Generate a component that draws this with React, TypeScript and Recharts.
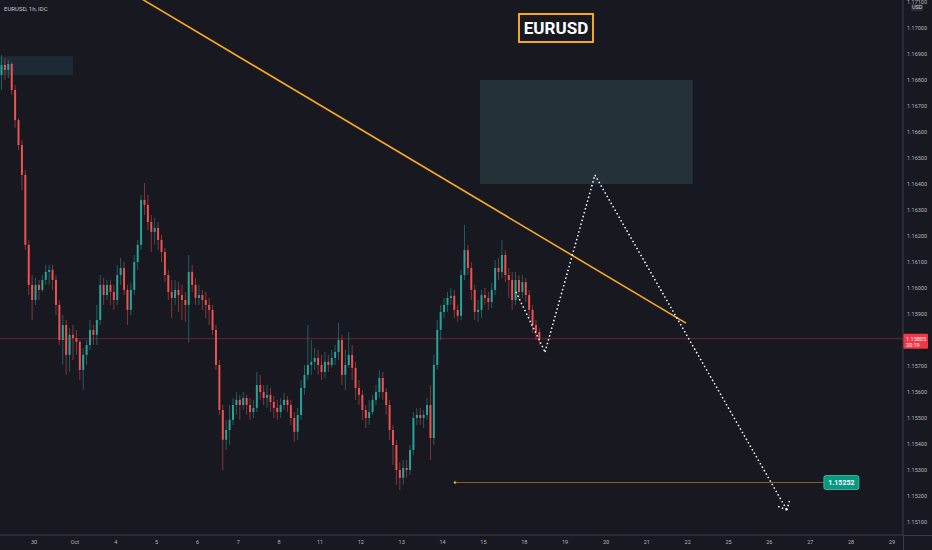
import React from 'react';
import {
  ComposedChart,
  Bar,
  XAxis,
  YAxis,
  ReferenceLine,
  ReferenceArea,
  ReferenceDot,
} from 'recharts';

// EURUSD 1h chart, candles sampled every 2 trading hours (t = trading hours since 30 Sep 00:00)
const dayLabels = ['30', 'Oct', '4', '5', '6', '7', '8', '11', '12', '13', '14', '15', '18', '19', '20', '21', '22', '25', '26', '27', '28', '29'];
const priceTicks = [1.151, 1.152, 1.153, 1.154, 1.155, 1.156, 1.157, 1.159, 1.16, 1.161, 1.162, 1.163, 1.164, 1.165, 1.166, 1.167, 1.168, 1.169, 1.17, 1.171];

const opens = [
  1.16820, 1.16858, 1.16839, 1.16862, 1.16762, 1.16646, 1.16550, 1.16435, 1.16166, 1.16012,
  1.15954, 1.16012, 1.15993, 1.16031, 1.16062, 1.16070, 1.16031, 1.15935, 1.15800, 1.15858,
  1.15743, 1.15820, 1.15808, 1.15793, 1.15685, 1.15743, 1.15781, 1.15839, 1.15820, 1.15877,
  1.16012, 1.15973, 1.16012, 1.15985, 1.15954, 1.16050, 1.16077, 1.15993, 1.15916, 1.15993,
  1.16100, 1.16166, 1.16339, 1.16320, 1.16254, 1.16216, 1.16231, 1.16185, 1.16139, 1.16050,
  1.15985, 1.15962, 1.15993, 1.15973, 1.15954, 1.15935, 1.16062, 1.16012, 1.15962, 1.15973,
  1.15954, 1.15935, 1.15916, 1.15839, 1.15704, 1.15531, 1.15416, 1.15454, 1.15493, 1.15550,
  1.15570, 1.15550, 1.15577, 1.15550, 1.15523, 1.15539, 1.15627, 1.15600, 1.15577, 1.15589,
  1.15562, 1.15539, 1.15523, 1.15550, 1.15570, 1.15550, 1.15500, 1.15447, 1.15512, 1.15616,
  1.15666, 1.15704, 1.15716, 1.15731, 1.15704, 1.15677, 1.15716, 1.15704, 1.15731, 1.15754,
  1.15800, 1.15666, 1.15704, 1.15743, 1.15693, 1.15616, 1.15589, 1.15531, 1.15500, 1.15523,
  1.15570, 1.15600, 1.15654, 1.15600, 1.15550, 1.15454, 1.15396, 1.15300, 1.15270, 1.15308,
  1.15300, 1.15377, 1.15500, 1.15512, 1.15500, 1.15512, 1.15550, 1.15423, 1.15704, 1.15839,
  1.15908, 1.15935, 1.15962, 1.15970, 1.15916, 1.15893, 1.16050, 1.16146, 1.16077, 1.15993,
  1.15908, 1.15916, 1.15973, 1.15962, 1.15946, 1.15993, 1.16077, 1.16062, 1.16127, 1.16050,
  1.16031, 1.15954, 1.16031, 1.15985, 1.16023, 1.15973, 1.15916, 1.15858, 1.15831,
];
const highs = [
  1.16896, 1.16885, 1.16877, 1.16870, 1.16781, 1.16654, 1.16570, 1.16454, 1.16185, 1.16050,
  1.16039, 1.16031, 1.16050, 1.16089, 1.16089, 1.16089, 1.16050, 1.15954, 1.15896, 1.15877,
  1.15846, 1.15858, 1.15839, 1.15800, 1.15770, 1.15800, 1.15877, 1.15858, 1.15935, 1.16050,
  1.16039, 1.16031, 1.16031, 1.16012, 1.16089, 1.16116, 1.16100, 1.16012, 1.16020, 1.16127,
  1.16185, 1.16358, 1.16404, 1.16358, 1.16281, 1.16270, 1.16254, 1.16204, 1.16154, 1.16070,
  1.16031, 1.16031, 1.16023, 1.16012, 1.15985, 1.16127, 1.16089, 1.16039, 1.16012, 1.15993,
  1.15985, 1.15962, 1.15935, 1.15858, 1.15723, 1.15550, 1.15493, 1.15550, 1.15577, 1.15600,
  1.15589, 1.15600, 1.15589, 1.15577, 1.15570, 1.15677, 1.15666, 1.15627, 1.15627, 1.15616,
  1.15585, 1.15570, 1.15577, 1.15597, 1.15585, 1.15570, 1.15523, 1.15539, 1.15646, 1.15704,
  1.15858, 1.15800, 1.15770, 1.15762, 1.15743, 1.15754, 1.15743, 1.15762, 1.15781, 1.15866,
  1.15820, 1.15762, 1.15831, 1.15781, 1.15716, 1.15646, 1.15608, 1.15550, 1.15570, 1.15589,
  1.15627, 1.15685, 1.15677, 1.15616, 1.15570, 1.15473, 1.15416, 1.15331, 1.15339, 1.15339,
  1.15396, 1.15523, 1.15539, 1.15539, 1.15531, 1.15577, 1.15627, 1.15743, 1.15877, 1.15935,
  1.15962, 1.15985, 1.16000, 1.15993, 1.15935, 1.16070, 1.16243, 1.16166, 1.16100, 1.16012,
  1.15954, 1.15993, 1.16000, 1.15985, 1.16020, 1.16108, 1.16116, 1.16185, 1.16146, 1.16077,
  1.16062, 1.16062, 1.16050, 1.16050, 1.16039, 1.15993, 1.15935, 1.15877, 1.15846,
];
const lows = [
  1.16762, 1.16800, 1.16808, 1.16743, 1.16616, 1.16531, 1.16377, 1.16146, 1.15973, 1.15877,
  1.15935, 1.15954, 1.15985, 1.16012, 1.16012, 1.15993, 1.15896, 1.15781, 1.15704, 1.15666,
  1.15677, 1.15723, 1.15743, 1.15646, 1.15608, 1.15704, 1.15762, 1.15781, 1.15781, 1.15858,
  1.15935, 1.15954, 1.15935, 1.15916, 1.15935, 1.16012, 1.15973, 1.15858, 1.15896, 1.15973,
  1.16070, 1.16146, 1.16281, 1.16223, 1.16139, 1.16166, 1.16146, 1.16100, 1.16023, 1.15954,
  1.15885, 1.15935, 1.15908, 1.15877, 1.15870, 1.15789, 1.15985, 1.15935, 1.15935, 1.15916,
  1.15885, 1.15858, 1.15820, 1.15685, 1.15512, 1.15300, 1.15377, 1.15396, 1.15473, 1.15512,
  1.15493, 1.15531, 1.15512, 1.15493, 1.15500, 1.15523, 1.15570, 1.15550, 1.15539, 1.15523,
  1.15500, 1.15493, 1.15500, 1.15531, 1.15523, 1.15473, 1.15408, 1.15416, 1.15493, 1.15589,
  1.15646, 1.15666, 1.15685, 1.15666, 1.15646, 1.15654, 1.15677, 1.15693, 1.15704, 1.15723,
  1.15627, 1.15608, 1.15693, 1.15646, 1.15570, 1.15550, 1.15493, 1.15462, 1.15473, 1.15512,
  1.15550, 1.15577, 1.15570, 1.15512, 1.15416, 1.15320, 1.15243, 1.15223, 1.15243, 1.15270,
  1.15281, 1.15358, 1.15473, 1.15473, 1.15462, 1.15493, 1.15339, 1.15396, 1.15685, 1.15800,
  1.15885, 1.15908, 1.15935, 1.15885, 1.15870, 1.15877, 1.16031, 1.16050, 1.15954, 1.15877,
  1.15870, 1.15885, 1.15935, 1.15916, 1.15923, 1.15973, 1.16031, 1.16039, 1.16023, 1.15962,
  1.15916, 1.15935, 1.15954, 1.15962, 1.15946, 1.15885, 1.15827, 1.15800, 1.15781,
];
const closes = [
  1.16858, 1.16839, 1.16862, 1.16762, 1.16646, 1.16550, 1.16435, 1.16166, 1.16012, 1.15954,
  1.16012, 1.15993, 1.16031, 1.16062, 1.16070, 1.16031, 1.15935, 1.15800, 1.15858, 1.15743,
  1.15820, 1.15808, 1.15793, 1.15685, 1.15743, 1.15781, 1.15839, 1.15820, 1.15877, 1.16012,
  1.15973, 1.16012, 1.15985, 1.15954, 1.16050, 1.16077, 1.15993, 1.15916, 1.15993, 1.16100,
  1.16166, 1.16339, 1.16320, 1.16254, 1.16216, 1.16231, 1.16185, 1.16139, 1.16050, 1.15985,
  1.15962, 1.15993, 1.15973, 1.15954, 1.15935, 1.16062, 1.16012, 1.15962, 1.15973, 1.15954,
  1.15935, 1.15916, 1.15839, 1.15704, 1.15531, 1.15416, 1.15454, 1.15493, 1.15550, 1.15570,
  1.15550, 1.15577, 1.15550, 1.15523, 1.15539, 1.15627, 1.15600, 1.15577, 1.15589, 1.15562,
  1.15539, 1.15523, 1.15550, 1.15570, 1.15550, 1.15500, 1.15447, 1.15512, 1.15616, 1.15666,
  1.15704, 1.15716, 1.15731, 1.15704, 1.15677, 1.15716, 1.15704, 1.15731, 1.15754, 1.15800,
  1.15666, 1.15704, 1.15743, 1.15693, 1.15616, 1.15589, 1.15531, 1.15500, 1.15523, 1.15570,
  1.15600, 1.15654, 1.15600, 1.15550, 1.15454, 1.15396, 1.15300, 1.15270, 1.15308, 1.15300,
  1.15377, 1.15500, 1.15512, 1.15500, 1.15512, 1.15550, 1.15423, 1.15704, 1.15839, 1.15908,
  1.15935, 1.15962, 1.15970, 1.15916, 1.15893, 1.16050, 1.16146, 1.16077, 1.15993, 1.15908,
  1.15916, 1.15973, 1.15962, 1.15946, 1.15993, 1.16077, 1.16062, 1.16127, 1.16050, 1.16031,
  1.15954, 1.16031, 1.15985, 1.16023, 1.15973, 1.15916, 1.15858, 1.15831, 1.15805,
];

const lastPrice = 1.15805;
const countdown = '20:19';
const targetPrice = 1.15252;

// drawings (time in trading hours, price)
const trendTimes = [54.6, 383];
const trendPrices = [1.17146, 1.15865];
const pathTimes = [283.1, 300.2, 329.5, 442.3];
const pathPrices = [1.15985, 1.15754, 1.16435, 1.15146];
const arrowTimes = [436.4, 444.1];
const arrowPrices = [1.15162, 1.15189];
const zoneTimes = [262, 387];
const zonePrices = [1.164, 1.168];
const oldZoneTimes = [-20, 22.9];
const oldZonePrices = [1.16819, 1.16892];
const targetTimes = [247.3, 464, 474.3];

const UP = '#26a69a';
const DOWN = '#ef5350';
const BG = '#181821';
const TEXT = '#b2b5be';
const FONT = 'Roboto, "Noto Sans", sans-serif';

const data = closes.map((c, i) => ({
  t: -19 + i * 2,
  open: opens[i],
  high: highs[i],
  low: lows[i],
  close: c,
}));

const Candle = (props: any) => {
  const { x, y, width, height, payload } = props;
  if (!payload || !height) return null;
  const { open, close, high, low } = payload;
  const color = close >= open ? UP : DOWN;
  const k = height / (high - low);
  const top = y + (high - Math.max(open, close)) * k;
  const bottom = y + (high - Math.min(open, close)) * k;
  const cx = x + width / 2;
  const bw = Math.max(width * 0.65, 1);
  return (
    <g>
      <line x1={cx} x2={cx} y1={y} y2={y + height} stroke={color} strokeOpacity={0.5} strokeWidth={1} />
      <rect x={cx - bw / 2} y={top} width={bw} height={Math.max(bottom - top, 1)} fill={color} />
    </g>
  );
};

const PriceTag = (props: any) => {
  const vb = props.viewBox || {};
  const x = vb.x + vb.width;
  const y = vb.y;
  return (
    <g>
      <rect x={x} y={y - 5} width={25} height={15} rx={1} fill="#f23645" />
      <text x={x + 3} y={y + 2} fill="#ffffff" fontSize={5.5} fontFamily={FONT}>
        {lastPrice.toFixed(5)}
      </text>
      <text x={x + 3} y={y + 8} fill="#ffffff" fontSize={5.5} fontFamily={FONT}>
        {countdown}
      </text>
    </g>
  );
};

const TargetTag = (props: any) => {
  const { cx, cy } = props;
  return (
    <g>
      <rect x={cx - 17.5} y={cy - 7} width={35} height={14} rx={2} fill="#089981" stroke="#4fc1ad" strokeWidth={0.8} />
      <text x={cx} y={cy + 2.5} textAnchor="middle" fill="#ffffff" fontSize={7} fontWeight="bold" fontFamily={FONT}>
        {targetPrice.toFixed(5)}
      </text>
    </g>
  );
};

const dotted = { stroke: '#ffffff', strokeWidth: 1.5, strokeDasharray: '1.5 2.5' };

export default function App() {
  return (
    <div style={{ position: 'absolute', left: 0, top: 0, width: 932, height: 550, background: BG, fontFamily: FONT, overflow: 'hidden' }}>
      <ComposedChart width={932} height={550} data={data} margin={{ top: 0, right: 0, bottom: 0, left: 0 }}>
        <XAxis
          dataKey="t"
          type="number"
          domain={[-20, 510.5]}
          allowDataOverflow
          ticks={dayLabels.map((_, i) => i * 24)}
          tickFormatter={(v: number) => dayLabels[Math.round(v / 24)]}
          height={15}
          tickLine={false}
          tickSize={0}
          tickMargin={5}
          axisLine={{ stroke: '#3a3d47' }}
          tick={{ fill: TEXT, fontSize: 5.5, fontFamily: FONT }}
          interval={0}
        />
        <YAxis
          orientation="right"
          type="number"
          domain={[1.1505, 1.17108]}
          allowDataOverflow
          ticks={priceTicks}
          tickFormatter={(v: number) => v.toFixed(5)}
          width={29}
          tickLine={false}
          tickSize={0}
          tickMargin={4}
          axisLine={{ stroke: '#3a3d47' }}
          tick={{ fill: TEXT, fontSize: 5.5, fontFamily: FONT, textAnchor: 'start' }}
          interval={0}
        />
        <ReferenceArea
          x1={oldZoneTimes[0]}
          x2={oldZoneTimes[1]}
          y1={oldZonePrices[0]}
          y2={oldZonePrices[1]}
          fill="#1c2a36"
          fillOpacity={1}
          stroke="none"
          ifOverflow="hidden"
        />
        <ReferenceArea
          x1={zoneTimes[0]}
          x2={zoneTimes[1]}
          y1={zonePrices[0]}
          y2={zonePrices[1]}
          fill="#243137"
          fillOpacity={1}
          stroke="none"
        />
        <ReferenceLine y={lastPrice} stroke="#f23645" strokeOpacity={0.4} strokeWidth={1} label={<PriceTag />} />
        <Bar
          dataKey={(d: any) => [d.low, d.high]}
          barSize={3}
          shape={<Candle />}
          isAnimationActive={false}
        />
        <ReferenceLine
          segment={[{ x: targetTimes[0], y: targetPrice }, { x: targetTimes[1], y: targetPrice }]}
          stroke="#f5a623"
          strokeOpacity={0.5}
          strokeWidth={1}
        />
        <ReferenceDot x={targetTimes[0]} y={targetPrice} r={1.3} fill="#f5a623" stroke="none" />
        <ReferenceLine
          segment={[{ x: trendTimes[0], y: trendPrices[0] }, { x: trendTimes[1], y: trendPrices[1] }]}
          stroke="#f7a823"
          strokeWidth={1.6}
          ifOverflow="hidden"
        />
        {pathTimes.slice(1).map((t, i) => (
          <ReferenceLine
            key={'p' + i}
            segment={[{ x: pathTimes[i], y: pathPrices[i] }, { x: t, y: pathPrices[i + 1] }]}
            {...dotted}
          />
        ))}
        {arrowTimes.map((t, i) => (
          <ReferenceLine
            key={'a' + i}
            segment={[{ x: pathTimes[3], y: pathPrices[3] }, { x: t, y: arrowPrices[i] }]}
            {...dotted}
          />
        ))}
        <ReferenceDot x={targetTimes[2]} y={targetPrice} r={1} shape={<TargetTag />} />
      </ComposedChart>

      <div style={{ position: 'absolute', left: 4, top: 5, fontSize: 6, color: '#c3c6ce', whiteSpace: 'nowrap' }}>
        EURUSD, 1h, IDC
      </div>
      <div
        style={{
          position: 'absolute',
          left: 518,
          top: 13,
          width: 72,
          height: 26,
          border: '2px solid #f5a623',
          background: BG,
          color: '#ffffff',
          fontSize: 17,
          fontWeight: 'bold',
          lineHeight: '26px',
          textAlign: 'center',
        }}
      >
        EURUSD
      </div>
      <div
        style={{
          position: 'absolute',
          left: 911,
          top: 4,
          padding: '0 1px',
          fontSize: 5.5,
          lineHeight: '7px',
          color: '#d1d4dc',
          background: '#2a2d38',
          borderRadius: 1,
        }}
      >
        USD
      </div>
      <div style={{ position: 'absolute', left: 903, top: 535, width: 29, height: 1, background: '#3a3d47' }} />
      <div style={{ position: 'absolute', left: 903, top: 535, width: 1, height: 15, background: '#3a3d47' }} />
    </div>
  );
}
